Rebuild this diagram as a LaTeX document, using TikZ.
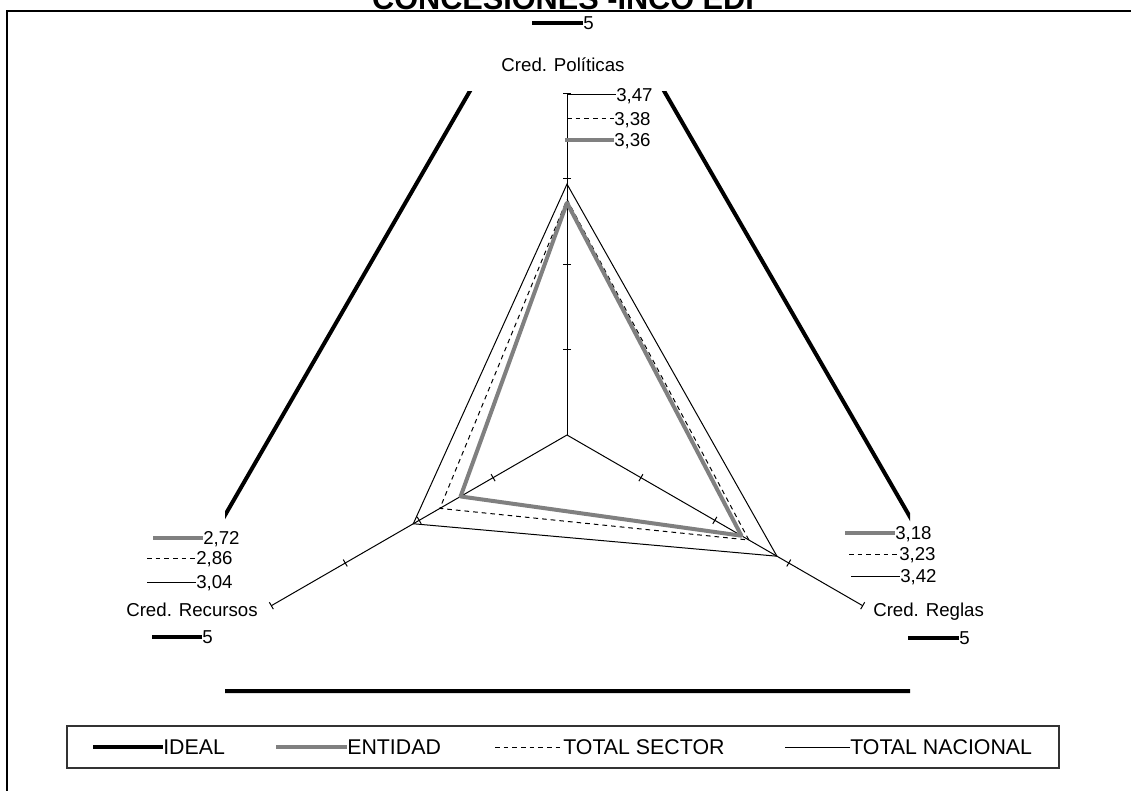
\documentclass[tikz,border=0pt]{standalone}
\usepackage{fontspec}
\setmainfont{Liberation Sans}
\usetikzlibrary{calc}
\definecolor{entgray}{HTML}{808080}
\tikzset{
  idealline/.style={line width=3pt, black},
  entline/.style={line width=3pt, entgray},
  tsline/.style={line width=0.75pt, dash pattern=on 3.5pt off 3pt},
  tnline/.style={line width=0.75pt},
  axisline/.style={line width=0.75pt},
  val/.style={font=\fontsize{14}{14}\selectfont, inner sep=0pt, anchor=west, text height=10pt, text depth=0pt},
  cat/.style={font=\fontsize{14}{14}\selectfont, inner sep=0pt, text height=10pt, text depth=0pt},
  legtext/.style={font=\fontsize{16}{16}\selectfont, inner sep=0pt, anchor=west, text height=11.5pt, text depth=0pt},
}
\begin{document}
\begin{tikzpicture}[x=0.75pt,y=-0.75pt]
\useasboundingbox (0,0) rectangle (1131,791);
% frame
\draw[line width=1.5pt] (7,791) -- (7,11) -- (1131,11);
% title (its top is cut by the page edge, as in the reference)
\node[font=\bfseries\fontsize{23}{23}\selectfont, anchor=base, inner sep=0pt] (title) at (563,10) {CONCESIONES -INCO EDI};

% ideal triangle (clipped to plot area)
\begin{scope}
\clip (225,92) rectangle (910,700);
\begin{scope}[shift={(567,435)}]
\coordinate (I1) at (-90:512.1);
\coordinate (I2) at (30:512.1);
\coordinate (I3) at (150:512.1);
\draw[idealline] (I1) -- (I2) -- (I3) -- cycle;
\end{scope}
\end{scope}

\begin{scope}[shift={(567,435)}]
\coordinate (O) at (0,0);
% axes
\coordinate (A1) at (-90:341.4);
\coordinate (A2) at (30:341.4);
\coordinate (A3) at (150:341.4);
\draw[axisline] (O) -- (A1);
\draw[axisline] (O) -- (A2);
\draw[axisline] (O) -- (A3);
\foreach \a in {-90,30,150}{
  \foreach \r in {85.35,170.7,256.05,341.4}{
    \draw[axisline] ($(\a:\r)+(\a+90:4)$) -- ($(\a:\r)+(\a-90:4)$);
  }
}
% total nacional
\coordinate (N1) at (-90:250.9);
\coordinate (N2) at (30:242.4);
\coordinate (N3) at (150:177.5);
\draw[tnline] (N1) -- (N2) -- (N3) -- cycle;
% total sector
\coordinate (S1) at (-90:235.6);
\coordinate (S2) at (30:210.0);
\coordinate (S3) at (150:146.8);
\draw[tsline] (S1) -- (S2) -- (S3) -- cycle;
% entidad
\coordinate (E1) at (-90:232.2);
\coordinate (E2) at (30:201.4);
\coordinate (E3) at (150:122.9);
\draw[entline, line join=round] (E1) -- (E2) -- (E3) -- cycle;
\end{scope}

% top labels
\node[val] (p5) at (583,23) {5};
\coordinate (p5s) at (532,23);
\draw[idealline] (p5s) -- (p5.west);
\node[cat] (pcat) at (563,65) {Cred. Políticas};
\node[val] (p347) at (616,95) {3,47};
\coordinate (p347s) at (567,95);
\draw[tnline] (p347s) -- (p347.west);
\node[val] (p338) at (614,119) {3,38};
\coordinate (p338s) at (567,119);
\draw[tsline] (p338s) -- (p338.west);
\node[val] (p336) at (614,140) {3,36};
\coordinate (p336s) at (565,140);
\draw[entline] (p336s) -- (p336.west);

% left labels
\node[val] (c272) at (203,538) {2,72};
\coordinate (c272s) at (153,538);
\draw[entline] (c272s) -- (c272.west);
\node[val] (c286) at (196,558) {2,86};
\coordinate (c286s) at (147,558);
\draw[tsline] (c286s) -- (c286.west);
\node[val] (c304) at (196,582) {3,04};
\coordinate (c304s) at (147,582);
\draw[tnline] (c304s) -- (c304.west);
\node[cat] (ccat) at (192,610) {Cred. Recursos};
\node[val] (c5) at (202,637) {5};
\coordinate (c5s) at (152,637);
\draw[idealline] (c5s) -- (c5.west);

% right labels
\node[val] (r318) at (895,533) {3,18};
\coordinate (r318s) at (845,533);
\draw[entline] (r318s) -- (r318.west);
\node[val] (r323) at (899,554) {3,23};
\coordinate (r323s) at (849,554);
\draw[tsline] (r323s) -- (r323.west);
\node[val] (r342) at (900,576) {3,42};
\coordinate (r342s) at (851,576);
\draw[tnline] (r342s) -- (r342.west);
\node[cat, anchor=west] (rcat) at (873,610) {Cred. Reglas};
\node[val] (r5) at (959,638) {5};
\coordinate (r5s) at (908,638);
\draw[idealline] (r5s) -- (r5.west);

% legend
\node[draw=black!80, line width=1pt, minimum width=744pt, minimum height=31.5pt, inner sep=0pt] (legbox) at (563,747) {};
\node[legtext] (lI) at (163,747) {IDEAL};
\coordinate (lIs) at (93,747);
\draw[idealline] (lIs) -- (lI.west);
\node[legtext] (lE) at (347,747) {ENTIDAD};
\coordinate (lEs) at (276,747);
\draw[entline] (lEs) -- (lE.west);
\node[legtext] (lS) at (563,747) {TOTAL SECTOR};
\coordinate (lSs) at (495,747);
\draw[tsline] (lSs) -- (lS.west);
\node[legtext] (lN) at (850,747) {TOTAL NACIONAL};
\coordinate (lNs) at (785,747);
\draw[tnline] (lNs) -- (lN.west);
\end{tikzpicture}
\end{document}
